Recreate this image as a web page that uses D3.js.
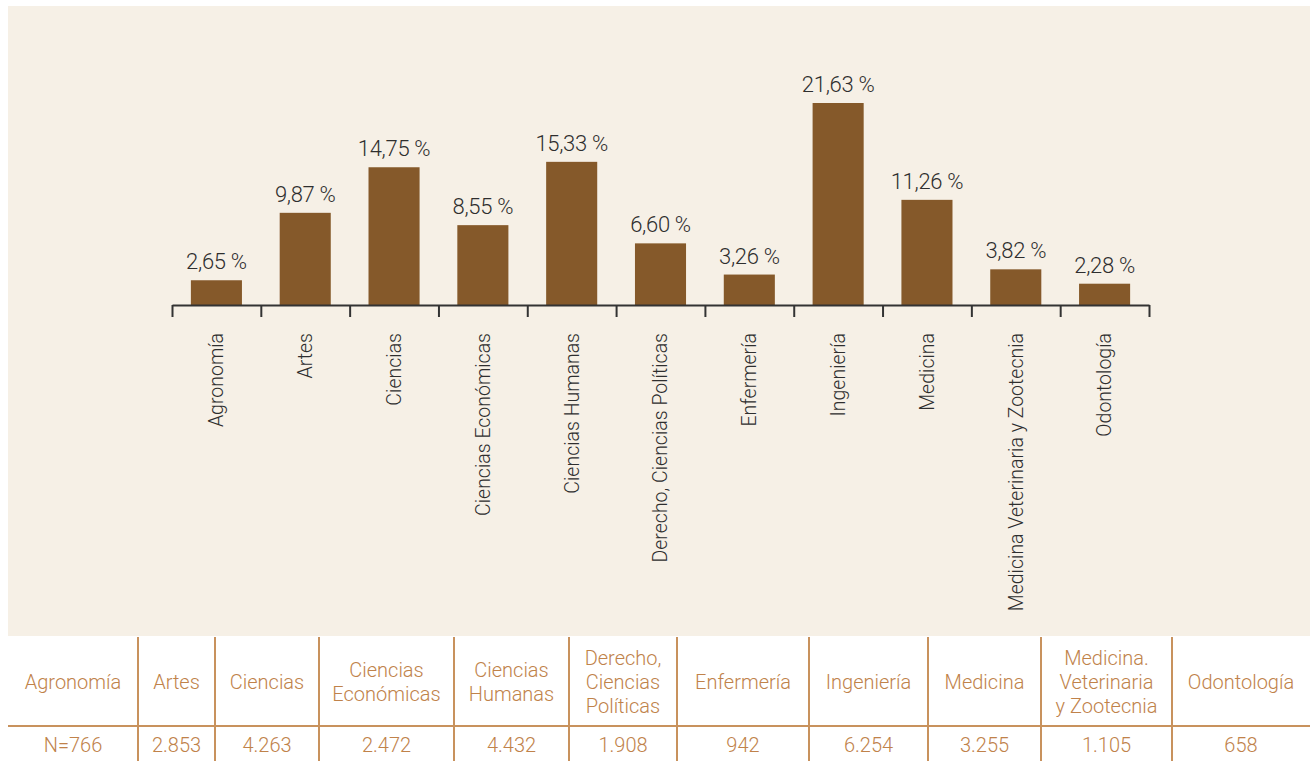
<!DOCTYPE html>
<html>
<head>
<meta charset="utf-8">
<script src="https://cdn.jsdelivr.net/npm/d3@7"></script>
<style>
  body { margin: 0; background: #ffffff; }
  svg { display: block; }
  .lbl { font-family: "Liberation Sans Narrow", "Roboto", "Noto Sans", sans-serif; font-weight: 300; }
  .dark { font-weight: 400; }
</style>
</head>
<body>
<div id="chart"></div>
<script>
// data
const categories = ["Agronomía", "Artes", "Ciencias", "Ciencias Económicas", "Ciencias Humanas",
  "Derecho, Ciencias Políticas", "Enfermería", "Ingeniería", "Medicina",
  "Medicina Veterinaria y Zootecnia", "Odontología"];
const percentages = [2.65, 9.87, 14.75, 8.55, 15.33, 6.60, 3.26, 21.63, 11.26, 3.82, 2.28];
const tableHeaders = [["Agronomía"], ["Artes"], ["Ciencias"], ["Ciencias", "Económicas"],
  ["Ciencias", "Humanas"], ["Derecho,", "Ciencias", "Políticas"], ["Enfermería"], ["Ingeniería"],
  ["Medicina"], ["Medicina.", "Veterinaria", "y Zootecnia"], ["Odontología"]];
const tableCounts = ["N=766", "2.853", "4.263", "2.472", "4.432", "1.908", "942", "6.254", "3.255", "1.105", "658"];

// layout
const W = 1310, H = 761;
const panel = { x: 8, y: 6, w: 1302, h: 630 };
const axisLeft = 172, axisRight = 1149, axisY = 305, topY = 103;
const tableEdges = [8, 138, 215, 319, 454, 569, 677, 809, 928, 1041, 1172, 1310];
const headerTop = 637, rowLine = 726, tableBottom = 761;

const barColour = "#85592a";
const tableColour = "#c8925d";
const tableText = "#c0824a";

const svg = d3.select("#chart").append("svg")
  .attr("width", W)
  .attr("height", H);

svg.append("rect")
  .attr("x", panel.x).attr("y", panel.y)
  .attr("width", panel.w).attr("height", panel.h)
  .attr("fill", "#f6f0e6");

// scales
const xScale = d3.scaleBand()
  .domain(categories)
  .range([axisLeft, axisRight])
  .paddingInner(0.425)
  .paddingOuter(0.2125);

const xEdges = d3.scaleLinear()
  .domain([0, categories.length])
  .range([axisLeft, axisRight]);

const yScale = d3.scaleLinear()
  .domain([0, d3.max(percentages)])
  .range([axisY, topY]);

const data = categories.map((c, i) => ({ cat: c, pct: percentages[i] }));

// bars
svg.selectAll(".bar")
  .data(data)
  .join("rect")
  .attr("class", "bar")
  .attr("x", d => xScale(d.cat))
  .attr("y", d => yScale(d.pct))
  .attr("width", xScale.bandwidth())
  .attr("height", d => axisY - yScale(d.pct))
  .attr("fill", barColour);

// value labels
svg.selectAll(".val")
  .data(data)
  .join("text")
  .attr("class", "val lbl")
  .attr("x", d => xScale(d.cat) + xScale.bandwidth() / 2)
  .attr("y", d => yScale(d.pct) - 11)
  .attr("text-anchor", "middle")
  .attr("fill", "#2e2e2e")
  .style("font-size", "22px")
  .style("font-weight", 350)
  .style("letter-spacing", "-0.3px")
  .text(d => d3.format(".2f")(d.pct).replace(".", ",") + " %");

// boundary ticks + domain line
const edgeAxis = d3.axisBottom(xEdges)
  .tickValues(d3.range(categories.length + 1))
  .tickSize(12)
  .tickSizeOuter(0)
  .tickFormat("");

const edgeGroup = svg.append("g")
  .attr("transform", `translate(0,${axisY})`)
  .call(edgeAxis);
edgeGroup.selectAll("path, line")
  .attr("stroke", "#333333")
  .attr("stroke-width", 2);

// category labels
const labelAxis = d3.axisBottom(xScale).tickSize(0);
const labelGroup = svg.append("g")
  .attr("transform", `translate(0,${axisY})`)
  .call(labelAxis);
labelGroup.select(".domain").remove();
labelGroup.selectAll("text")
  .attr("class", "lbl")
  .attr("transform", "rotate(-90)")
  .attr("x", -28)
  .attr("y", 0)
  .attr("dy", "0.35em")
  .attr("text-anchor", "end")
  .attr("fill", "#2e2e2e")
  .style("font-size", "19.5px");

// table
const table = svg.append("g");

table.append("line")
  .attr("x1", tableEdges[0]).attr("x2", tableEdges[tableEdges.length - 1])
  .attr("y1", rowLine).attr("y2", rowLine)
  .attr("stroke", tableColour).attr("stroke-width", 2);

table.selectAll(".vline")
  .data(tableEdges.slice(1, -1))
  .join("line")
  .attr("class", "vline")
  .attr("x1", d => d).attr("x2", d => d)
  .attr("y1", headerTop).attr("y2", tableBottom)
  .attr("stroke", tableColour).attr("stroke-width", 2);

const lineH = 24;
const headerMid = (headerTop + rowLine) / 2;

tableHeaders.forEach((lines, i) => {
  const cx = (tableEdges[i] + tableEdges[i + 1]) / 2;
  const t = table.append("text")
    .attr("class", "lbl")
    .attr("text-anchor", "middle")
    .attr("fill", tableText)
    .style("font-size", "20px");
  lines.forEach((ln, j) => {
    t.append("tspan")
      .attr("x", cx)
      .attr("y", headerMid + (j - (lines.length - 1) / 2) * lineH)
      .attr("dy", "0.35em")
      .text(ln);
  });
});

table.selectAll(".count")
  .data(tableCounts)
  .join("text")
  .attr("class", "count lbl")
  .attr("x", (d, i) => (tableEdges[i] + tableEdges[i + 1]) / 2)
  .attr("y", (rowLine + tableBottom) / 2 + 1)
  .attr("dy", "0.35em")
  .attr("text-anchor", "middle")
  .attr("fill", tableText)
  .style("font-size", "20px")
  .text(d => d);
</script>
</body>
</html>
